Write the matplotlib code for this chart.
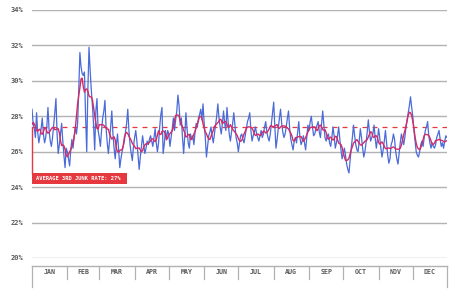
import numpy as np
import pandas as pd
import matplotlib
matplotlib.use("Agg")
import matplotlib.pyplot as plt
from matplotlib.patches import Rectangle
from matplotlib.transforms import blended_transform_factory

# daily 3rd-junk rate (%), one list per month
jan = [28.4, 27.6, 27.3, 26.8, 28.2, 27.1, 26.5, 26.9, 27.3, 27.9, 27.0, 26.5, 26.8, 27.4, 28.5, 27.2,
       26.6, 26.3, 26.8, 27.5, 28.2, 29.0, 27.0, 25.9, 26.4, 27.0, 27.6, 26.6, 25.8, 25.1, 26.2]
feb = [26.0, 25.6, 25.2, 26.1, 26.7, 26.2, 26.9, 27.4, 27.0, 27.6, 29.5, 31.6, 30.8, 30.4, 30.3, 30.5,
       28.0, 26.0, 29.5, 31.9, 30.6, 29.5, 28.6, 27.5, 26.1, 28.3, 29.0, 27.2]
mar = [26.8, 26.3, 27.2, 27.9, 28.3, 28.9, 27.3, 26.5, 25.9, 26.6, 27.4, 28.3, 27.0, 26.2, 25.6, 26.4,
       27.0, 26.1, 25.1, 25.6, 26.0, 26.3, 26.6, 27.1, 27.6, 28.4, 27.2, 26.4, 25.9, 25.5, 26.3]
apr = [26.8, 27.2, 26.6, 25.8, 25.0, 25.7, 26.3, 26.9, 26.4, 25.9, 26.2, 26.6, 26.4, 26.7, 26.9, 26.6,
       26.3, 26.8, 27.3, 26.5, 26.0, 26.5, 27.4, 28.1, 28.5, 25.9, 26.4, 27.2, 26.7, 27.2]
may = [27.0, 26.3, 26.8, 27.3, 27.9, 27.2, 27.8, 28.3, 29.2, 28.6, 27.5, 27.9, 26.8, 25.9, 26.9, 28.2,
       27.3, 26.5, 26.2, 27.0, 26.7, 26.9, 26.4, 27.1, 27.6, 27.4, 27.9, 28.1, 28.4, 27.8, 28.7]
jun = [27.6, 26.8, 25.7, 26.3, 26.9, 27.1, 27.4, 26.9, 26.5, 27.0, 27.5, 28.0, 28.7, 27.9, 27.4, 27.0,
       27.6, 28.3, 27.6, 27.2, 28.5, 27.7, 27.0, 26.6, 27.1, 27.6, 28.2, 27.5, 26.8, 26.5]
jul = [26.0, 26.5, 26.9, 27.0, 26.7, 26.5, 26.9, 27.3, 27.7, 27.9, 28.2, 27.2, 26.6, 26.9, 27.1, 27.4,
       27.0, 26.8, 26.6, 26.9, 27.2, 26.8, 27.0, 27.4, 27.7, 27.1, 26.8, 26.6, 27.0, 27.6, 28.2]
aug = [28.8, 27.4, 26.2, 26.7, 27.3, 27.9, 28.4, 27.6, 27.1, 26.8, 27.0, 27.4, 27.9, 28.3, 27.3, 26.7,
       26.4, 26.1, 26.6, 26.8, 26.5, 27.1, 27.7, 26.8, 26.4, 26.6, 26.9, 26.5, 26.1, 26.8, 27.5]
sep = [27.2, 27.7, 28.0, 27.4, 26.9, 27.0, 27.3, 27.5, 27.7, 27.1, 26.8, 27.6, 28.3, 27.5, 26.8, 26.6,
       26.9, 27.0, 26.5, 26.3, 26.8, 27.4, 26.9, 26.2, 26.5, 26.9, 27.4, 26.7, 26.1, 25.6]
oct_ = [25.9, 26.2, 25.8, 25.3, 25.0, 24.8, 25.5, 26.2, 26.8, 27.5, 26.9, 26.4, 26.1, 26.0, 26.6, 27.3,
        26.8, 26.2, 25.7, 26.0, 26.5, 27.1, 27.8, 27.1, 26.6, 26.8, 27.0, 27.5, 26.8, 26.2, 26.7]
nov = [27.3, 26.8, 26.2, 25.7, 26.1, 26.6, 27.2, 26.5, 25.8, 25.35, 25.6, 26.4, 26.6, 27.0, 26.7, 26.0,
       25.6, 25.3, 25.9, 26.5, 27.0, 26.7, 26.4, 26.8, 27.4, 27.8, 28.2, 28.6, 29.1, 28.5]
dec = [28.0, 27.2, 26.6, 26.0, 25.8, 25.7, 26.0, 26.4, 26.6, 26.3, 26.8, 27.2, 27.4, 27.7, 26.9, 26.5,
       26.2, 26.5, 26.3, 26.2, 26.4, 26.8, 27.0, 27.2, 26.7, 26.3, 26.5, 26.2, 26.6, 26.9, 26.8]

month_labels = ["JAN", "FEB", "MAR", "APR", "MAY", "JUN", "JUL", "AUG", "SEP", "OCT", "NOV", "DEC"]
y_ticks = [20, 22, 24, 26, 28, 30, 32, 34]
avg_rate = 27.4
avg_label = "AVERAGE 3RD JUNK RATE: 27%"

BLUE = "#4a6bd8"
PINK = "#d42a66"
RED = "#e5393f"
GRID = "#b2b2b2"
TEXT = "#5a5a5a"

daily = pd.Series(jan + feb + mar + apr + may + jun + jul + aug + sep + oct_ + nov + dec)
smooth = daily.rolling(7, center=True, min_periods=1).mean()
days = np.arange(len(daily))

dates = pd.date_range("2017-01-01", periods=len(daily), freq="D")
month_starts = [i for i, d in enumerate(dates) if d.day == 1] + [len(daily) - 1]

fig = plt.figure(figsize=(4.73, 3.02), dpi=100)
ax = fig.add_axes([32 / 473, 1 - 258 / 302, 415 / 473, 248 / 302])
px_x = 1 / 415  # one pixel in axes-x units
px = 1 / 248    # one pixel in axes-y units

for yv in y_ticks:
    ax.axhline(yv, color=GRID, lw=1.0, zorder=1)

ax.plot(days, daily, color=BLUE, lw=0.9, zorder=3)
ax.plot(days, smooth, color=PINK, lw=1.0, zorder=4)
ax.axhline(avg_rate, color=RED, lw=0.9, ls=(0, (4, 4)), zorder=2)

ax.set_xlim(0, len(daily) - 1)
ax.set_ylim(20, 34)
ax.set_yticks(y_ticks)
ax.set_yticklabels([f"{v}%" for v in y_ticks], family="DejaVu Sans Mono",
                   fontsize=5, color=TEXT, fontweight="bold")
ax.tick_params(axis="y", length=0, pad=6)
ax.set_xticks([])
for s in ax.spines.values():
    s.set_visible(False)

# average marker: vertical rule down to the red label box
box_top = 85 * px
box_bot = 74 * px
ax.plot([0, 0], [(avg_rate - 20) / 14, box_top], color=RED, lw=1.0,
        transform=ax.transAxes, clip_on=False, zorder=5)
ax.add_patch(Rectangle((0, box_bot), 95 * px_x, box_top - box_bot, transform=ax.transAxes,
                       fc=RED, ec="none", zorder=6, clip_on=False))
ax.text(4 * px_x, (box_top + box_bot) / 2, avg_label, transform=ax.transAxes,
        ha="left", va="center", family="DejaVu Sans Mono", fontsize=3.9,
        color="white", fontweight="bold", zorder=7)

# month band below the plot
tr = blended_transform_factory(ax.transData, ax.transAxes)
band_top = -8 * px
band_bot = -21 * px
edge_bot = -29 * px
ax.plot([0, len(daily) - 1], [band_top, band_top], color=GRID, lw=1.0, transform=tr, clip_on=False)
for i, m in enumerate(month_starts):
    low = edge_bot if i in (0, len(month_starts) - 1) else band_bot
    ax.plot([m, m], [band_top, low], color=GRID, lw=0.9, transform=tr, clip_on=False)
for i, lab in enumerate(month_labels):
    mid = (month_starts[i] + month_starts[i + 1]) / 2
    ax.text(mid, (band_top + band_bot) / 2, lab, transform=tr, ha="center", va="center",
            family="DejaVu Sans Mono", fontsize=4.8, color=TEXT, fontweight="bold")

fig.savefig("out.png", dpi=100)
